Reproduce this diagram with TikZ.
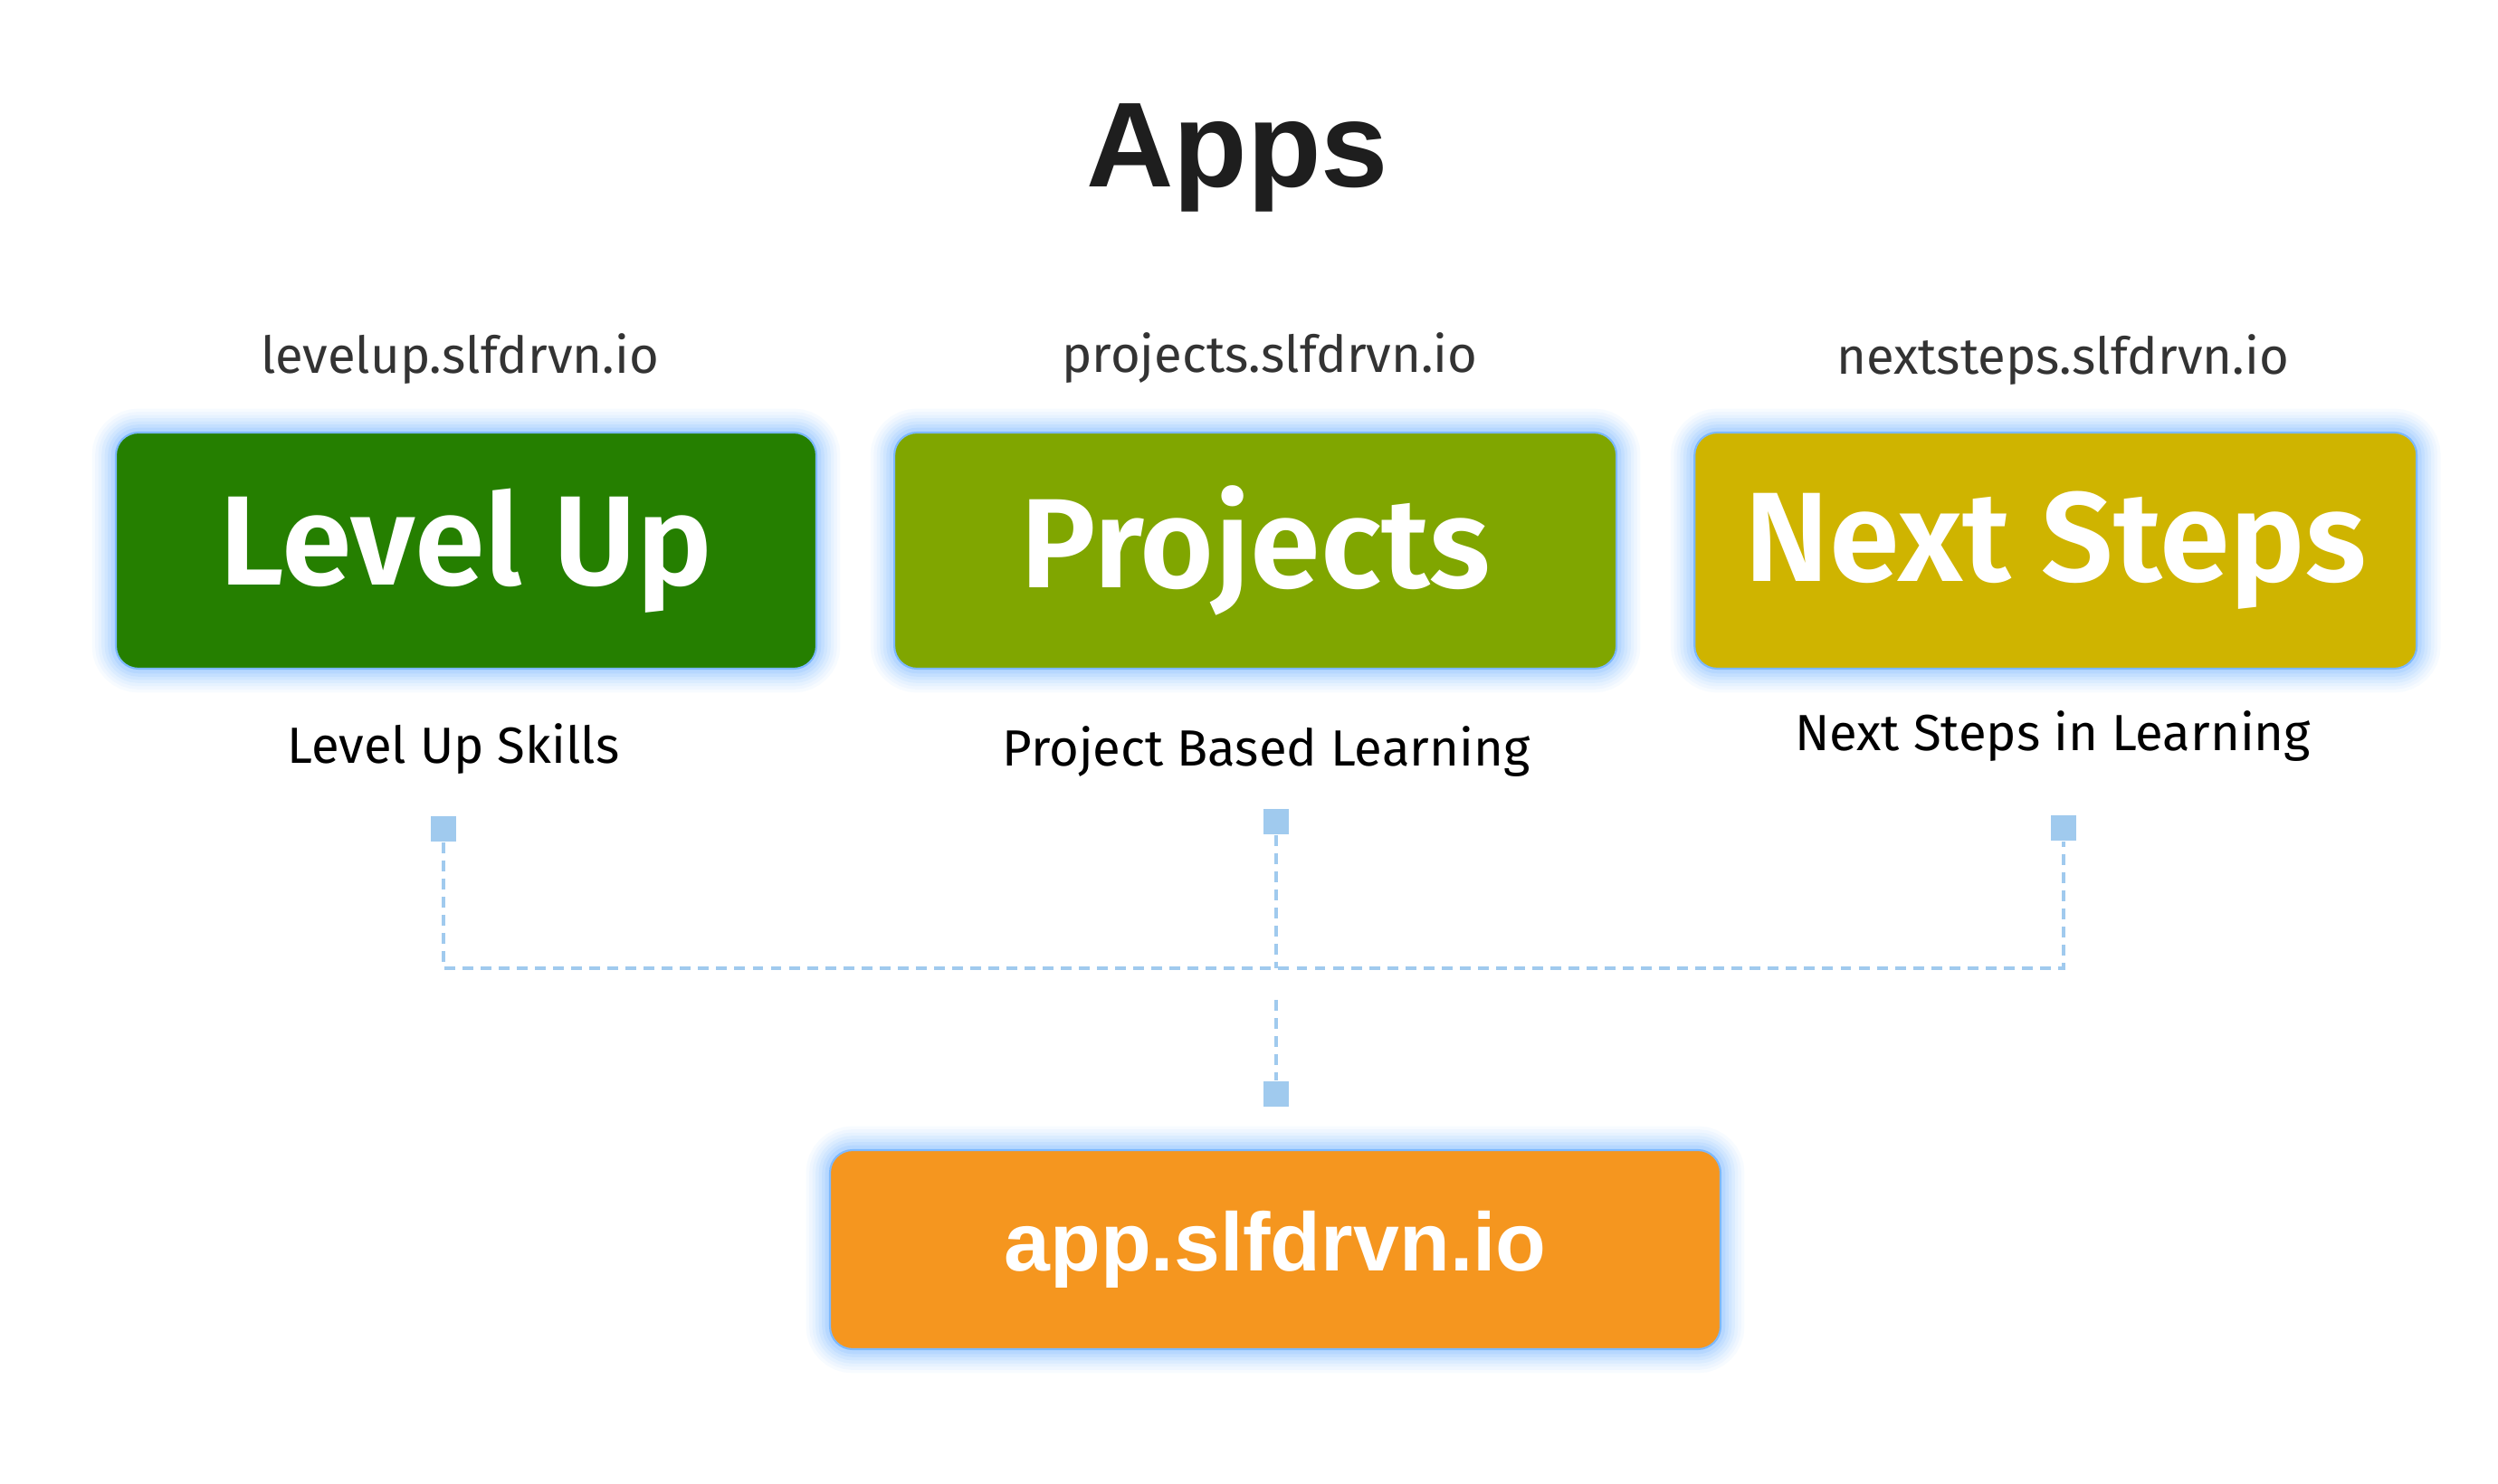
\documentclass[tikz,border=0pt]{standalone}
\usepackage{fontspec}
\setmainfont{Fira Sans}
\newfontfamily\boxfont{Fira Sans SemiBold}
\newfontfamily\headfont{Liberation Sans}
\usetikzlibrary{positioning}

\definecolor{levelgreen}{HTML}{257F00}
\definecolor{projgreen}{HTML}{80A600}
\definecolor{nextyellow}{HTML}{CFB400}
\definecolor{apporange}{HTML}{F5961F}
\definecolor{glowblue}{HTML}{7DB9FF}
\definecolor{linkblue}{HTML}{A0CAEE}
\definecolor{urlgray}{HTML}{333333}
\definecolor{titleblack}{HTML}{1E1E1E}

\tikzset{
  appbox/.style={rounded corners=0.25cm, draw=glowblue, line width=0.6pt, text=white,
    font=\boxfont\fontsize{40}{48}\selectfont, minimum height=2.61cm,
    preaction={draw=glowblue, line width=15pt, opacity=0.06},
    preaction={draw=glowblue, line width=13pt, opacity=0.07},
    preaction={draw=glowblue, line width=11pt, opacity=0.08},
    preaction={draw=glowblue, line width=9pt, opacity=0.1},
    preaction={draw=glowblue, line width=7pt, opacity=0.12},
    preaction={draw=glowblue, line width=5pt, opacity=0.15},
    preaction={draw=glowblue, line width=3pt, opacity=0.2}},
  urltext/.style={text=urlgray, font=\fontsize{16}{19}\selectfont, anchor=base},
  subtext/.style={text=black, font=\fontsize{16}{19}\selectfont, anchor=base},
  joint/.style={fill=linkblue, minimum size=0.28cm, inner sep=0pt},
  linkline/.style={linkblue, line width=1.4pt, dash pattern=on 3.4pt off 2.3pt}
}

\begin{document}
\begin{tikzpicture}
\useasboundingbox (0,0) rectangle (27.6,16.4);

\node[font=\headfont\bfseries\fontsize{38}{46}\selectfont, text=titleblack, anchor=base] (title) at (13.67,14.33) {Apps};

% the three apps
\node[appbox, fill=levelgreen, minimum width=7.74cm] (levelup) at (5.15,10.315) {Level Up};
\node[appbox, fill=projgreen, minimum width=7.98cm, right=0.84cm of levelup] (projects) {Projects};
\node[appbox, fill=nextyellow, minimum width=7.98cm, right=0.84cm of projects] (nextsteps) {Next Steps};

\node[urltext] (urllu) at (5.08,12.27) {levelup.slfdrvn.io};
\node[urltext] (urlpr) at (14.03,12.28) {projects.slfdrvn.io};
\node[urltext] (urlns) at (22.79,12.26) {nextsteps.slfdrvn.io};

\node[subtext] (sublu) at (5.01,7.96) {Level Up Skills};
\node[subtext] (subpr) at (13.99,7.93) {Project Based Learning};
\node[subtext] (subns) at (22.68,8.10) {Next Steps in Learning};

% connectors
\node[joint] (jointlu) at (4.90,7.24) {};
\node[joint] (jointpr) at (14.10,7.32) {};
\node[joint] (jointns) at (22.80,7.25) {};
\node[joint] (jointapp) at (14.10,4.31) {};
\coordinate (bus) at (14.10,5.70);
\coordinate (busdrop) at (14.10,5.35);

\draw[linkline] (jointlu) |- (bus) -| (jointns);
\draw[linkline] (jointpr) -- (jointpr |- bus);
\draw[linkline] (busdrop) -- (jointapp);

\node[appbox, fill=apporange, minimum width=9.84cm, minimum height=2.2cm,
  font=\headfont\bfseries\fontsize{26}{31}\selectfont] (app) at (14.09,2.59) {app.slfdrvn.io};

\end{tikzpicture}
\end{document}
